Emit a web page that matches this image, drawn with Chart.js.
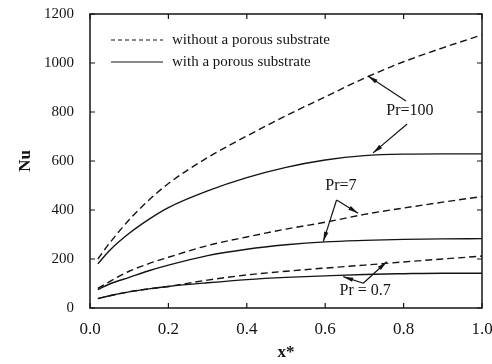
<!DOCTYPE html>
<html>
<head>
<meta charset="utf-8">
<script src="https://cdn.jsdelivr.net/npm/chart.js@4/dist/chart.umd.min.js"></script>
<style>
  html, body { margin: 0; padding: 0; background: #fff; }
  #wrap { width: 492px; height: 364px; }
</style>
</head>
<body>
<div id="wrap"><canvas id="nu-chart"></canvas></div>
<script>
const INK = '#141414';
const SERIF = "'Liberation Serif', 'Times New Roman', serif";

// Stations along the plate where Nu was sampled
const X_STATIONS = [0.02, 0.05, 0.1, 0.15, 0.2, 0.3, 0.4, 0.5, 0.6, 0.7, 0.8, 0.9, 1.0];

// Nu without the porous substrate (dashed)
const NU_PR100_BARE = [200, 265, 360, 440, 508, 614, 702, 785, 862, 938, 1005, 1062, 1115];
const NU_PR7_BARE   = [80, 108, 150, 181, 207, 255, 290, 322, 350, 382, 408, 432, 455];
const NU_PR07_BARE  = [38, 50, 66, 78, 88, 114, 135, 150, 163, 175, 188, 200, 212];

// Nu with the porous substrate (solid)
const NU_PR100_POROUS = [180, 235, 305, 362, 410, 478, 532, 574, 604, 622, 628, 629, 629];
const NU_PR7_POROUS   = [75, 98, 125, 152, 175, 214, 240, 258, 270, 276, 280, 282, 283];
const NU_PR07_POROUS  = [38, 50, 66, 78, 88, 103, 116, 125, 131, 137, 140, 142, 142];

const X_TICKS = [0, 0.2, 0.4, 0.6, 0.8, 1.0];
const Y_TICKS = [0, 200, 400, 600, 800, 1000, 1200];

const LEGEND_ITEMS = [
  { text: 'without a porous substrate', dash: [4, 3] },
  { text: 'with a porous substrate',    dash: [] },
];

// Pr labels with leader lines, in data coordinates
const NOTES = [
  { text: 'Pr=100', at: [0.816, 804],
    legs: [{ from: [0.806, 845], to: [0.709, 947] },
           { from: [0.809, 751], to: [0.722, 633] }] },
  { text: 'Pr=7', at: [0.64, 498],
    legs: [{ from: [0.629, 441], to: [0.684, 387] },
           { from: [0.629, 441], to: [0.595, 271] }] },
  { text: 'Pr = 0.7', at: [0.702, 72],
    legs: [{ from: [0.697, 101], to: [0.757, 189] },
           { from: [0.697, 101], to: [0.646, 128] }] },
];

const DASH = [7, 4];

function series(values, dashed) {
  return {
    data: X_STATIONS.map((x, i) => ({ x, y: values[i] })),
    borderColor: INK,
    borderWidth: 1.4,
    borderDash: dashed ? DASH : [],
    pointRadius: 0,
    fill: false,
    cubicInterpolationMode: 'monotone',
  };
}

// ── Frame, inward ticks, legend and Pr notes ──────────────────────
const decorations = {
  id: 'decorations',
  afterDatasetsDraw(chart) {
    const { ctx, chartArea: a, scales: { x, y } } = chart;
    const px = v => x.getPixelForValue(v);
    const py = v => y.getPixelForValue(v);

    ctx.save();
    ctx.strokeStyle = INK;
    ctx.fillStyle = INK;

    ctx.lineWidth = 1.5;
    ctx.strokeRect(a.left, a.top, a.right - a.left, a.bottom - a.top);

    const TL = 5;
    ctx.lineWidth = 1.2;
    ctx.beginPath();
    X_TICKS.forEach(v => {
      const p = px(v);
      ctx.moveTo(p, a.bottom); ctx.lineTo(p, a.bottom - TL);
      ctx.moveTo(p, a.top);    ctx.lineTo(p, a.top + TL);
    });
    Y_TICKS.forEach(v => {
      const p = py(v);
      ctx.moveTo(a.left, p);  ctx.lineTo(a.left + TL, p);
      ctx.moveTo(a.right, p); ctx.lineTo(a.right - TL, p);
    });
    ctx.stroke();

    // legend
    ctx.font = `15px ${SERIF}`;
    ctx.textBaseline = 'middle';
    ctx.textAlign = 'left';
    LEGEND_ITEMS.forEach((item, i) => {
      const ly = a.top + 26 + i * 22;
      const lx = a.left + 21;
      ctx.setLineDash(item.dash);
      ctx.lineWidth = 1.2;
      ctx.beginPath();
      ctx.moveTo(lx, ly); ctx.lineTo(lx + 52, ly);
      ctx.stroke();
      ctx.setLineDash([]);
      ctx.fillText(item.text, lx + 61, ly);
    });

    // notes
    ctx.font = `16px ${SERIF}`;
    ctx.textAlign = 'center';
    NOTES.forEach(n => {
      ctx.fillText(n.text, px(n.at[0]), py(n.at[1]));
      n.legs.forEach(leg => {
        const x0 = px(leg.from[0]), y0 = py(leg.from[1]);
        const x1 = px(leg.to[0]),   y1 = py(leg.to[1]);
        ctx.lineWidth = 1.2;
        ctx.beginPath();
        ctx.moveTo(x0, y0); ctx.lineTo(x1, y1);
        ctx.stroke();
        const ang = Math.atan2(y1 - y0, x1 - x0);
        const len = 10, hw = 2.2;
        const bx = x1 - len * Math.cos(ang), by = y1 - len * Math.sin(ang);
        ctx.beginPath();
        ctx.moveTo(x1, y1);
        ctx.lineTo(bx + hw * Math.sin(ang), by - hw * Math.cos(ang));
        ctx.lineTo(bx - hw * Math.sin(ang), by + hw * Math.cos(ang));
        ctx.closePath();
        ctx.fill();
      });
    });
    ctx.restore();
  },
};

new Chart(document.getElementById('nu-chart'), {
  type: 'line',
  data: {
    datasets: [
      series(NU_PR100_BARE, true),
      series(NU_PR100_POROUS, false),
      series(NU_PR7_BARE, true),
      series(NU_PR7_POROUS, false),
      series(NU_PR07_BARE, true),
      series(NU_PR07_POROUS, false),
    ],
  },
  options: {
    responsive: true,
    maintainAspectRatio: false,
    animation: false,
    layout: { padding: { top: 14, right: 10, bottom: 0, left: 0 } },
    plugins: { legend: { display: false }, tooltip: { enabled: false } },
    scales: {
      x: {
        type: 'linear',
        min: 0, max: 1,
        afterBuildTicks: s => { s.ticks = X_TICKS.map(value => ({ value })); },
        afterFit: s => { s.height = 56; s.paddingLeft = 0; s.paddingRight = 0; },
        grid: { display: false },
        border: { display: false },
        ticks: {
          padding: 3,
          color: INK,
          font: { family: SERIF, size: 17 },
          callback: v => Number(v).toFixed(1),
        },
        title: {
          display: true,
          text: 'x*',
          color: INK,
          font: { family: SERIF, size: 17, weight: 'bold' },
          padding: { top: 0, bottom: 1 },
        },
      },
      y: {
        min: 0, max: 1200,
        afterBuildTicks: s => { s.ticks = Y_TICKS.map(value => ({ value })); },
        afterFit: s => { s.width = 90; s.paddingTop = 0; s.paddingBottom = 0; },
        grid: { display: false },
        border: { display: false },
        ticks: {
          padding: 8,
          color: INK,
          font: { family: SERIF, size: 15 },
          callback: v => String(v),
        },
        title: {
          display: true,
          text: 'Nu',
          color: INK,
          font: { family: SERIF, size: 17, weight: 'bold' },
          padding: { top: 15, bottom: 0 },
        },
      },
    },
  },
  plugins: [decorations],
});
</script>
</body>
</html>
